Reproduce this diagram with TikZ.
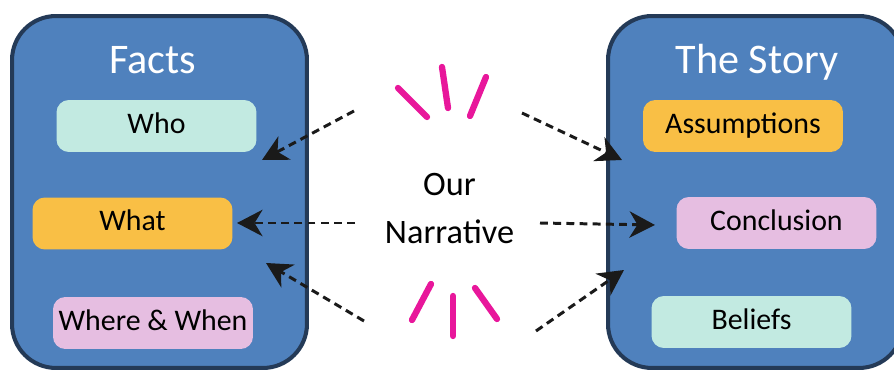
\documentclass[tikz,border=0pt]{standalone}
\usepackage{fontspec}
\setmainfont{Carlito}
\usetikzlibrary{arrows.meta}

\definecolor{panelblue}{HTML}{4F81BD}
\definecolor{paneledge}{HTML}{243A57}
\definecolor{mint}{HTML}{C2EAE1}
\definecolor{amber}{HTML}{F9BF45}
\definecolor{lilac}{HTML}{E6BEE1}
\definecolor{burst}{HTML}{E8179B}
\definecolor{ink}{HTML}{1A1A1A}

\begin{document}
\begin{tikzpicture}[x=0.02cm, y=-0.02cm,
  panel/.style={draw=paneledge, fill=panelblue, line width=2.3pt, rounded corners=25pt,
    minimum width=5.9cm, minimum height=7.04cm},
  title/.style={text=white, anchor=base, font=\fontsize{24}{28}\selectfont},
  item/.style={rounded corners=7pt, minimum width=4cm, minimum height=1.04cm, inner sep=0pt,
    text height=12pt, text depth=4pt, font=\fontsize{17}{20}\selectfont},
  flow/.style={ink, line width=1.7pt, dash pattern=on 4.5pt off 3pt,
    -{Stealth[length=14.5pt, width=15pt, inset=4.5pt]}},
  spark/.style={burst, line width=3.6pt, line cap=round}]
  \useasboundingbox (0,0) rectangle (894,371);
  \clip (0,0) rectangle (894,371);

  % the two panels
  \node[panel] (facts) at (159.5,192) {};
  \node[panel] (story) at (755.5,192) {};
  \node[title] (factstitle) at (152.5,74) {Facts};
  \node[title] (storytitle) at (757,74) {The Story};

  \node[item, fill=mint]  (who)    at (156.5,126) {Who};
  \node[item, fill=amber] (what)   at (132.5,223.5) {What};
  \node[item, fill=lilac] (where)  at (153,323) {Where \& When};

  \node[item, fill=amber] (assume) at (743,126) {Assumptions};
  \node[item, fill=lilac] (concl)  at (776.5,223) {Conclusion};
  \node[item, fill=mint]  (belief) at (751.5,322) {Beliefs};

  \node[align=center, font=\fontsize{19.5}{27}\selectfont] (narr) at (449.5,208.5) {Our\\Narrative};

  % loose ends of the arrows
  \coordinate (tailnw) at (354,111);
  \coordinate (tailw)  at (355,223);
  \coordinate (tailsw) at (364,321);
  \coordinate (tailne) at (522,113);
  \coordinate (taile)  at (540,223);
  \coordinate (tailse) at (536,331);
  \coordinate (tipnw) at (262,160);
  \coordinate (tipw)  at (237,223);
  \coordinate (tipsw) at (266,263);
  \coordinate (tipne) at (622,160);
  \coordinate (tipe)  at (655,225);
  \coordinate (tipse) at (624,270);

  \draw[flow] (tailnw) -- (tipnw);
  \draw[flow] (tailw)  -- (tipw);
  \draw[flow] (tailsw) -- (tipsw);
  \draw[flow] (tailne) -- (tipne);
  \draw[flow] (taile)  -- (tipe);
  \draw[flow] (tailse) -- (tipse);

  % brush strokes above and below
  \draw[spark] (398,88) -- (427,117);
  \draw[spark] (442,67) -- (448,108);
  \draw[spark] (486,77) -- (470,116);
  \draw[spark] (431,284) -- (412,320);
  \draw[spark] (453,296) -- (453,336);
  \draw[spark] (475,288) -- (497,319);
\end{tikzpicture}
\end{document}
